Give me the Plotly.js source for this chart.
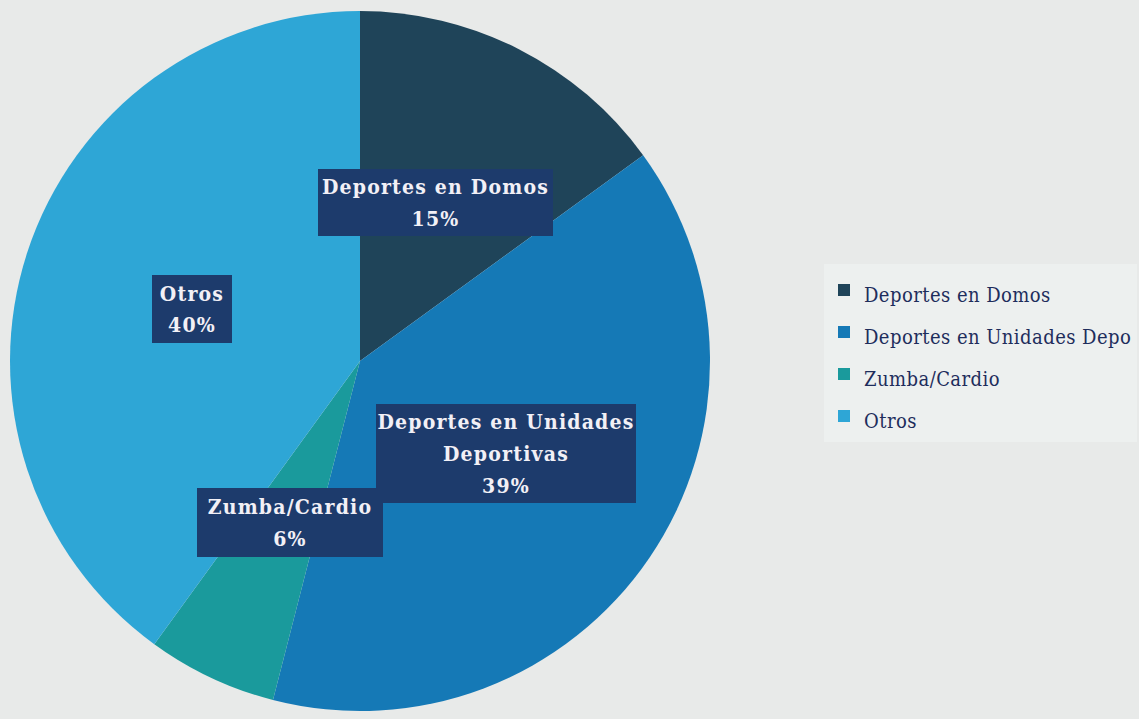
<!DOCTYPE html>
<html>
<head>
<meta charset="utf-8">
<script src="https://cdn.plot.ly/plotly-3.0.1.min.js"></script>
<style>
html, body { margin: 0; padding: 0; background: #e8eae9; }
#chart { width: 1139px; height: 719px; }
.annotation-text { letter-spacing: 1.2px; }
.legendtext { letter-spacing: 0.45px; }
</style>
</head>
<body>
<div id="chart"></div>
<script>
const categories = ["Deportes en Domos", "Deportes en Unidades Deportivas", "Zumba/Cardio", "Otros"];
const legendLabels = ["Deportes en Domos", "Deportes en Unidades Depo", "Zumba/Cardio", "Otros"];
const boxLines = [["Deportes en Domos"], ["Deportes en Unidades", "Deportivas"], ["Zumba/Cardio"], ["Otros"]];
const values = [15, 39, 6, 40];
const colors = ["#1f4459", "#1579b6", "#1a9a9c", "#2ea6d6"];

// label box placement (style only)
const boxPos = [
  {cx: 435, cy: 203, w: 235, h: 67},
  {cx: 506, cy: 453, w: 260, h: 99},
  {cx: 290, cy: 522, w: 186, h: 69},
  {cx: 192, cy: 309, w: 80, h: 68}
];

const W = 1139, H = 719;
const SERIF = "DejaVu Serif Condensed";
const total = values.reduce((a, b) => a + b, 0);

const annotations = categories.map((c, i) => {
  const lines = boxLines[i].concat([Math.round(values[i] / total * 100) + '%']);
  return {
    xref: 'paper', yref: 'paper',
    x: boxPos[i].cx / W, y: 1 - boxPos[i].cy / H,
    xanchor: 'center', yanchor: 'middle',
    text: lines.map(l => '<span style="font-size:21px"><b>' + l + '</b></span>').join('<br>'),
    showarrow: false,
    bgcolor: '#1d3b6c',
    borderpad: 0, borderwidth: 0,
    width: boxPos[i].w, height: boxPos[i].h,
    align: 'center', valign: 'middle',
    font: {family: SERIF, size: 24.5, color: '#f2f0f6'}
  };
});

const data = [{
  type: 'pie',
  labels: legendLabels.map(c => '<span style="font-size:20px">' + c + '</span>'),
  values: values,
  sort: false,
  direction: 'clockwise',
  rotation: 0,
  marker: {colors: colors, line: {width: 0}},
  textinfo: 'none',
  hoverinfo: 'label+percent',
  domain: {x: [10 / W, 710 / W], y: [1 - 711 / H, 1 - 11 / H]}
}];

const layout = {
  width: W, height: H,
  margin: {l: 0, r: 0, t: 0, b: 0, autoexpand: false},
  paper_bgcolor: '#e8eae9',
  plot_bgcolor: '#e8eae9',
  showlegend: true,
  legend: {
    x: 824 / W, y: 1 - 264 / H, xanchor: 'left', yanchor: 'top',
    bgcolor: 'rgba(240,242,241,0.7)',
    font: {family: SERIF, size: 30, color: '#1e2d5c'},
    itemclick: false
  },
  annotations: annotations
};

Plotly.newPlot('chart', data, layout, {displayModeBar: false, staticPlot: true});
</script>
</body>
</html>
